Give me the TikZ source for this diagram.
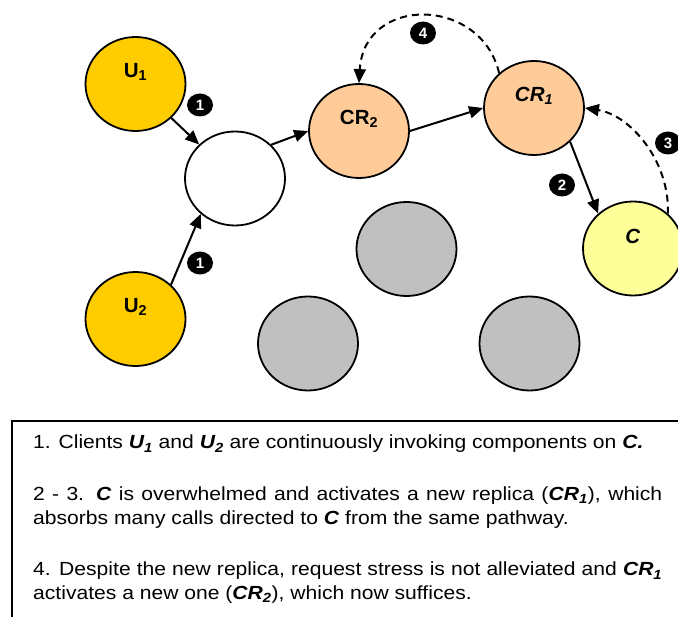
\documentclass[tikz,border=0pt]{standalone}
\usepackage{fontspec}
\setmainfont{Liberation Sans}
\newfontfamily\widesans[FakeStretch=1.11]{Liberation Sans}
\usetikzlibrary{shapes.geometric,arrows.meta}
\definecolor{gold}{HTML}{FFCC00}
\definecolor{peach}{HTML}{FFCC99}
\definecolor{paleyellow}{HTML}{FFFF99}
\definecolor{midgray}{HTML}{C0C0C0}
\newcommand\kw[1]{\textbf{\textit{#1}}}

\begin{document}
\begin{tikzpicture}[x=1pt,y=-1pt,
  blob/.style={ellipse, draw=black, line width=1.8pt, minimum width=100pt,
    minimum height=94pt, inner sep=0pt},
  tag/.style={label={[font=\fontsize{20.5}{20.5}\selectfont\bfseries, yshift=12pt]center:#1}},
  badge/.style={ellipse, fill=black, minimum width=26pt, minimum height=23pt, inner sep=0pt,
    text=white, font=\fontsize{15}{15}\selectfont\bfseries},
  flow/.style={line width=2pt, -{Triangle[length=14pt,width=12pt]}},
  dashflow/.style={flow, dash pattern=on 7pt off 5pt},
  body/.style={anchor=base west, inner sep=0pt, font=\widesans\fontsize{19}{23.5}\selectfont}]
\clip (0,0) rectangle (678,617);

% components
\node[blob, fill=gold, tag={U\textsubscript{1}}] (u1) at (135.5,84) {};
\node[blob, fill=gold, tag={U\textsubscript{2}}] (u2) at (135.5,319) {};
\node[blob, fill=white] (mid) at (235,178.5) {};
\node[blob, fill=peach, tag={CR\textsubscript{2}}] (cr2) at (359,131) {};
\node[blob, fill=peach, tag={\textit{CR\textsubscript{1}}}] (cr1) at (534,108) {};
\node[blob, fill=paleyellow, tag={\textit{C}}] (c) at (633,248.5) {};
\node[blob, fill=midgray] (g1) at (406.5,249) {};
\node[blob, fill=midgray] (g2) at (308,343.5) {};
\node[blob, fill=midgray] (g3) at (529.5,343.5) {};

% calls and activations
\draw[flow] (u1) -- (mid);
\draw[flow] (u2.44) -- (mid.226);
\draw[flow] (mid.43) -- (cr2.west);
\draw[flow] (cr2.east) -- (cr1.west);
\draw[flow] (cr1.-43) -- (c.135);
\draw[dashflow] (cr1.135) .. controls +(-18,-77) and +(5,-88) .. (cr2.north);
\draw[dashflow] (c.45) .. controls +(2,-53) and +(45,7) .. (cr1.east);

% step markers
\node[badge] (s1a) at (200,105) {1};
\node[badge] (s1b) at (200,263) {1};
\node[badge] (s2) at (562,185) {2};
\node[badge] (s3) at (668,143) {3};
\node[badge] (s4) at (423,33) {4};

% legend
\draw[line width=1.8pt] (690,421) -- (12,421) -- (12,640);
\node[body] (t1) at (33,449) {1. Clients \kw{U\textsubscript{1}} and \kw{U\textsubscript{2}} are continuously invoking components on \kw{C.}};
\node[body] (t2) at (33,500.7) {\hbox to 629pt{2 - 3. \kw{C} is overwhelmed and activates a new replica (\kw{CR\textsubscript{1}}), which}};
\node[body] (t3) at (33,525) {absorbs many calls directed to \kw{C} from the same pathway.};
\node[body] (t4) at (33,576) {\hbox to 629pt{4. Despite the new replica, request stress is not alleviated and \kw{CR\textsubscript{1}}}};
\node[body] (t5) at (33,599) {activates a new one (\kw{CR\textsubscript{2}}), which now suffices.};
\end{tikzpicture}
\end{document}
